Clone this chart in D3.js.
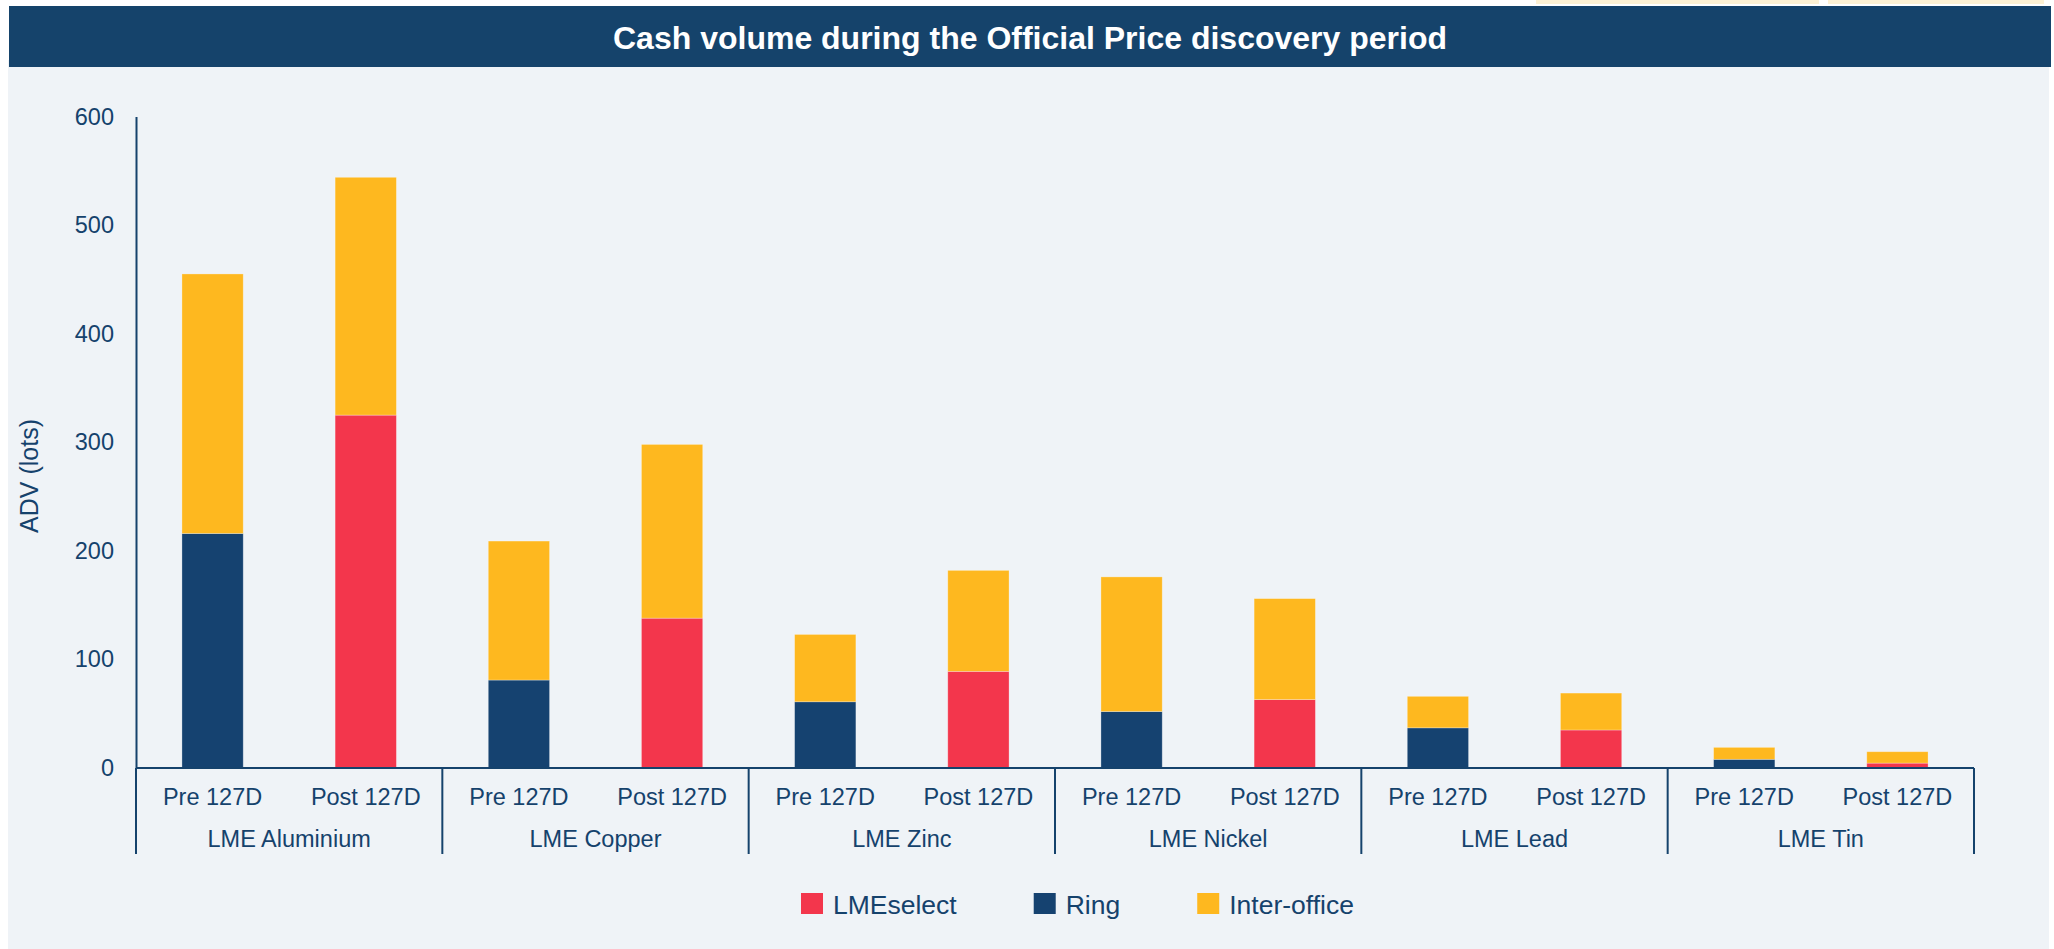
<!DOCTYPE html>
<html>
<head>
<meta charset="utf-8">
<script src="https://cdn.jsdelivr.net/npm/d3@7"></script>
<style>
  body { margin: 0; background: #ffffff; }
  svg text { font-family: "Liberation Sans", Arial, sans-serif; }
</style>
</head>
<body>
<svg id="chart"></svg>
<script>
var width = 2054,
  height = 949;

var title = "Cash volume during the Official Price discovery period";
var yTitle = "ADV (lots)";

var metals = ["LME Aluminium", "LME Copper", "LME Zinc", "LME Nickel", "LME Lead", "LME Tin"];
var periods = ["Pre 127D", "Post 127D"];
var seriesKeys = ["LMEselect", "Ring", "Inter-office"];

// values (lots)
var ringPre = [216, 81, 61, 52, 37, 8];
var selectPost = [325, 138, 89, 63, 35, 4.5];
var interPre = [239, 128, 62, 124, 29, 11];
var interPost = [219, 160, 93, 93, 34, 10.5];
var yTicks = [0, 100, 200, 300, 400, 500, 600];

var navy = "#15426c",
  colors = { "LMEselect": "#f3364c", "Ring": "#154270", "Inter-office": "#feb81f" };

var rows = [];
metals.forEach(function (m, i) {
  rows.push({ metal: m, period: periods[0], "LMEselect": 0, "Ring": ringPre[i], "Inter-office": interPre[i] });
  rows.push({ metal: m, period: periods[1], "LMEselect": selectPost[i], "Ring": 0, "Inter-office": interPost[i] });
});

var plotLeft = 136, plotRight = 1974, plotTop = 116.5, plotBase = 768;

var x0 = d3.scaleBand().domain(metals).range([plotLeft, plotRight]).padding(0);
var x1 = d3.scaleBand().domain(periods).range([0, x0.bandwidth()])
  .paddingInner(0.6).paddingOuter(0.3);
var y = d3.scaleLinear().domain([0, 600]).range([plotBase, plotTop]);

var svg = d3.select("#chart")
  .attr("width", width)
  .attr("height", height);

// background + top strips
svg.append("rect").attr("x", 1536).attr("y", 0).attr("width", 283).attr("height", 4).attr("fill", "#fdf1d4");
svg.append("rect").attr("x", 1828).attr("y", 0).attr("width", 216).attr("height", 4).attr("fill", "#fdf1d4");
svg.append("rect").attr("x", 8).attr("y", 60).attr("width", 2041).attr("height", height - 60).attr("fill", "#eff3f7");
svg.append("rect").attr("x", 9).attr("y", 6).attr("width", 2042).attr("height", 61).attr("fill", "#15436b");

svg.append("text")
  .attr("x", 1030).attr("y", 49)
  .attr("text-anchor", "middle")
  .attr("fill", "#ffffff")
  .style("font-size", "32px")
  .style("font-weight", "bold")
  .text(title);

// stacked bars
var stack = d3.stack().keys(seriesKeys);
var layers = stack(rows);

svg.append("g").selectAll("g")
    .data(layers)
  .enter().append("g")
    .attr("fill", function (d) { return colors[d.key]; })
  .selectAll("rect")
    .data(function (d) { return d.filter(function (p) { return p[1] - p[0] > 0; }); })
  .enter().append("rect")
    .attr("x", function (d) { return x0(d.data.metal) + x1(d.data.period); })
    .attr("width", x1.bandwidth())
    .attr("y", function (d) { return y(d[1]); })
    .attr("height", function (d) { return y(d[0]) - y(d[1]); })
    .attr("stroke", "#ffffff")
    .attr("stroke-opacity", 0.35)
    .attr("stroke-width", 0.8);

// y axis
var yAxis = svg.append("g")
  .attr("transform", "translate(" + plotLeft + ",0)")
  .call(d3.axisLeft(y).tickValues(yTicks).tickSize(0).tickSizeOuter(0).tickPadding(22));
yAxis.select(".domain").attr("stroke", navy).attr("stroke-width", 2);
yAxis.selectAll("text")
  .attr("fill", navy)
  .style("font-size", "23.5px")
  .style("font-family", "'Liberation Sans', Arial, sans-serif");

svg.append("text")
  .attr("transform", "translate(38," + 476 + ") rotate(-90)")
  .attr("text-anchor", "middle")
  .attr("fill", navy)
  .style("font-size", "25px")
  .text(yTitle);

// x axis: baseline, group separators and two rows of labels
var xg = svg.append("g");
xg.append("line")
  .attr("x1", plotLeft).attr("x2", plotRight)
  .attr("y1", y(0)).attr("y2", y(0))
  .attr("stroke", navy).attr("stroke-width", 2);

var bounds = metals.map(function (m) { return x0(m); }).concat([x0(metals[metals.length - 1]) + x0.bandwidth()]);
xg.selectAll(".sep")
    .data(bounds)
  .enter().append("line")
    .attr("class", "sep")
    .attr("x1", function (d) { return d; }).attr("x2", function (d) { return d; })
    .attr("y1", y(0)).attr("y2", 854)
    .attr("stroke", navy).attr("stroke-width", 2);

xg.selectAll(".sub")
    .data(rows)
  .enter().append("text")
    .attr("class", "sub")
    .attr("x", function (d) { return x0(d.metal) + x1(d.period) + x1.bandwidth() / 2; })
    .attr("y", 805)
    .attr("text-anchor", "middle")
    .attr("fill", navy)
    .style("font-size", "23.5px")
    .text(function (d) { return d.period; });

xg.selectAll(".grp")
    .data(metals)
  .enter().append("text")
    .attr("class", "grp")
    .attr("x", function (d) { return x0(d) + x0.bandwidth() / 2; })
    .attr("y", 847)
    .attr("text-anchor", "middle")
    .attr("fill", navy)
    .style("font-size", "23.5px")
    .text(function (d) { return d; });

// legend
var legend = svg.append("g");
var lx = 801;
seriesKeys.forEach(function (k) {
  var item = legend.append("g").attr("transform", "translate(" + lx + ",0)");
  item.append("rect")
    .attr("x", 0).attr("y", 893)
    .attr("width", 22).attr("height", 21)
    .attr("fill", colors[k]);
  var t = item.append("text")
    .attr("x", 32).attr("y", 914)
    .attr("fill", navy)
    .style("font-size", "26.5px")
    .text(k);
  lx += 32 + t.node().getComputedTextLength() + 77;
});
</script>
</body>
</html>
